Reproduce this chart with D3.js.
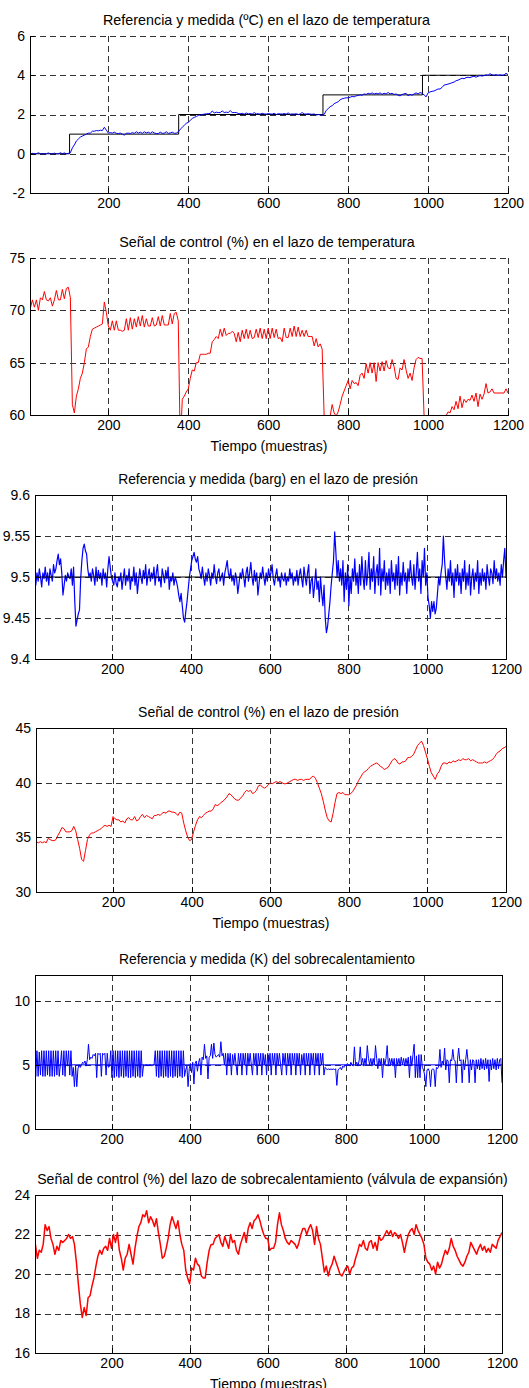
<!DOCTYPE html>
<html><head><meta charset="utf-8">
<script src="https://cdn.jsdelivr.net/npm/d3@7"></script>
<style>body{margin:0;background:#fff}svg{display:block}</style>
</head><body>
<svg id="c" width="529" height="1388"></svg>
<script>
// ---------------- DATA ----------------
const xTickValues = [200, 400, 600, 800, 1000, 1200];
const tempStep = 5, presStep = 3, presCtrlStep = 5, shStep = 3, shCtrlStep = 5; // sample spacing of each recorded series

const tempRefX = [5, 103, 376, 737, 986, 1200];
const tempRefY = [0, 1, 2, 3, 4, 4];
const tempMeas = [
0,0.02,0,0,0.05,0,0.01,0,0,0.04,0,0,0.03,0,0,0.05,0,0.04,0,0.02,
0.05,0.3,0.45,0.65,0.75,0.85,0.9,0.95,1.0,1.05,1.05,1.15,1.15,1.18,1.17,1.2,1.18,1.35,1.2,1.05,
1.08,1.05,1.1,1.04,1.03,1.05,1.0,0.95,1.04,1.05,1.03,1.08,1.04,1.12,1.05,1.1,1.04,1.12,1.06,1.1,
1.04,1.12,1.06,1.03,1.03,1.1,1.04,1.05,1.12,1.04,1.06,1.1,1.04,1.05,1.12,1.25,1.35,1.45,1.55,1.6,
1.7,1.8,1.85,1.9,1.95,1.98,2.0,2.02,2.03,2.05,2.05,2.18,2.08,2.12,2.1,2.1,2.18,2.1,2.12,2.1,
2.2,2.1,2.1,2.1,2.05,2.04,2.06,2.02,2.08,2.03,2.05,2.02,2.1,2.03,2.04,2.02,2.06,2.03,2.02,2.05,
2.03,2.02,2.06,2.0,2.04,2.03,2.02,2.05,2.02,2.08,2.01,2.03,2.02,2.04,2.0,2.03,2.1,2.03,2.02,2.04,
2.02,2.01,2.03,1.97,2.0,1.98,1.97,2.0,2.2,2.3,2.4,2.45,2.55,2.6,2.65,2.75,2.8,2.83,2.85,2.85,
2.88,2.92,2.9,2.95,2.97,3.0,2.98,3.05,3.02,3.08,3.05,3.1,3.04,3.08,3.05,3.1,3.03,3.08,3.05,3.12,
3.05,3.08,3.02,3.05,2.98,2.95,3.02,3.05,3.08,2.95,3.02,2.98,3.05,3.1,3.05,3.12,3.08,3.0,2.9,3.1,
3.15,3.18,3.2,3.25,3.3,3.3,3.38,3.5,3.52,3.55,3.58,3.62,3.65,3.72,3.75,3.8,3.85,3.82,3.88,3.9,
3.88,3.92,3.95,3.9,3.95,3.98,3.96,3.98,4.02,4.0,4.08,4.02,4.0,4.03,4.0,4.02,4.0,4.01,4.1,4.03
];
const tempCtrl = [
70.2,71.0,70.3,71.0,70.0,71.2,71.0,71.8,71.0,70.9,71.2,70.4,71.0,71.9,71.0,71.0,72.0,71.1,72.1,72.2,
71.2,61.0,60.2,61.8,62.5,63.5,64.0,65.0,66.3,66.5,67.5,68.2,68.3,68.4,68.5,68.6,68.7,70.8,69.8,68.5,
68.1,69.0,68.1,69.0,68.1,68.1,68.0,68.1,69.2,68.1,69.3,68.2,69.2,68.4,69.4,68.5,69.5,68.4,69.2,68.5,
68.5,69.3,68.5,68.6,69.4,68.5,69.5,68.6,68.6,68.6,69.7,68.7,69.7,69.8,69.0,57,61.5,61.8,62.2,62.5,
63.5,64.3,64.2,65.0,65.0,65.8,65.8,65.8,65.8,65.9,65.9,67.0,67.2,67.5,67.3,68.2,67.5,68.3,67.6,67.8,
67.8,68.0,67.8,67.0,67.9,67.0,68.1,67.3,68.2,67.3,68.1,67.3,67.4,68.2,67.4,68.3,67.3,68.2,67.3,68.3,
67.3,68.3,67.4,68.2,67.3,67.4,67.0,68.3,67.4,67.4,68.3,67.5,68.5,67.5,68.4,67.5,68.1,67.5,68.1,67.5,
67.5,67.5,66.6,67.3,66.5,66.8,66.3,59.9,59.9,59.9,59.9,61.0,60.2,59.9,60.3,61.0,61.8,62.3,62.8,63.3,
62.5,63.3,63.0,63.1,62.8,63.8,64.0,63.5,64.9,64.0,65.0,64.0,65.0,63.2,65.0,64.2,65.1,64.2,65.2,64.5,
64.4,65.3,64.6,63.5,63.4,64.5,64.3,65.3,64.3,63.5,64.0,63.3,64.5,65.3,65.5,65.4,65.4,59.9,59.9,59.9,
59.9,59.9,59.9,59.9,59.9,59.9,59.9,59.9,59.9,60.3,60.2,60.8,60.5,61.3,60.6,61.8,60.7,61.5,61.2,61.5,
61.4,61.9,61.3,62.1,60.8,62.0,61.5,62.0,63.0,62.1,62.2,62.5,62.1,62.1,62.1,62.1,62.1,62.1,62.5,62.1
];
const presRefX = [3, 1200];
const presRefY = [9.5, 9.5];
const presMeas = [
9.5,9.49,9.505,9.495,9.51,9.5,9.488,9.505,9.498,9.512,9.495,9.505,9.49,9.51,9.502,9.495,9.515,9.505,9.51,9.52,
9.528,9.515,9.522,9.505,9.478,9.49,9.502,9.495,9.505,9.5,9.498,9.51,9.49,9.512,9.47,9.44,9.448,9.455,9.46,9.498,
9.52,9.535,9.54,9.532,9.528,9.51,9.5,9.505,9.495,9.51,9.502,9.49,9.512,9.495,9.508,9.498,9.505,9.49,9.51,9.498,
9.505,9.488,9.51,9.525,9.512,9.5,9.495,9.49,9.505,9.492,9.488,9.5,9.495,9.505,9.485,9.498,9.51,9.49,9.502,9.495,
9.51,9.485,9.5,9.495,9.512,9.49,9.505,9.48,9.495,9.51,9.5,9.492,9.508,9.498,9.515,9.49,9.502,9.51,9.495,9.505,
9.498,9.512,9.49,9.505,9.515,9.495,9.5,9.488,9.51,9.502,9.493,9.508,9.498,9.512,9.485,9.5,9.495,9.505,9.49,9.5,
9.495,9.488,9.478,9.47,9.48,9.465,9.45,9.445,9.458,9.47,9.485,9.5,9.51,9.52,9.525,9.53,9.522,9.518,9.525,9.51,
9.505,9.498,9.512,9.5,9.49,9.505,9.495,9.51,9.502,9.49,9.505,9.498,9.515,9.5,9.492,9.505,9.51,9.495,9.5,9.505,
9.49,9.505,9.512,9.52,9.505,9.498,9.51,9.495,9.502,9.49,9.505,9.498,9.48,9.492,9.505,9.498,9.51,9.5,9.488,9.505,
9.512,9.495,9.505,9.518,9.5,9.49,9.508,9.495,9.505,9.478,9.492,9.505,9.498,9.512,9.5,9.49,9.505,9.495,9.51,9.5,
9.505,9.515,9.498,9.49,9.502,9.51,9.495,9.5,9.488,9.505,9.498,9.495,9.505,9.49,9.5,9.495,9.51,9.498,9.505,9.49,
9.5,9.495,9.508,9.49,9.502,9.51,9.498,9.488,9.512,9.5,9.49,9.505,9.515,9.48,9.495,9.5,9.475,9.49,9.51,9.485,
9.495,9.47,9.5,9.48,9.465,9.49,9.45,9.432,9.44,9.455,9.47,9.49,9.505,9.52,9.555,9.53,9.5,9.52,9.495,9.51,
9.49,9.52,9.47,9.505,9.485,9.515,9.465,9.5,9.48,9.51,9.495,9.522,9.49,9.505,9.48,9.515,9.49,9.525,9.5,9.485,
9.52,9.49,9.505,9.53,9.485,9.51,9.495,9.525,9.48,9.505,9.515,9.49,9.535,9.478,9.51,9.495,9.52,9.485,9.505,9.49,
9.51,9.48,9.52,9.495,9.505,9.485,9.515,9.49,9.525,9.478,9.505,9.49,9.518,9.495,9.505,9.48,9.51,9.495,9.52,9.5,
9.49,9.515,9.485,9.505,9.53,9.495,9.51,9.48,9.52,9.5,9.535,9.49,9.505,9.475,9.465,9.45,9.47,9.458,9.47,9.455,
9.462,9.48,9.5,9.49,9.505,9.515,9.55,9.52,9.5,9.485,9.51,9.495,9.52,9.49,9.505,9.475,9.51,9.495,9.515,9.49,
9.505,9.48,9.51,9.495,9.52,9.485,9.505,9.49,9.515,9.478,9.5,9.51,9.485,9.505,9.495,9.52,9.48,9.505,9.49,9.51,
9.495,9.505,9.485,9.515,9.5,9.49,9.51,9.505,9.492,9.52,9.498,9.51,9.495,9.505,9.49,9.515,9.5,9.52,9.535,9.5
];
const presCtrl = [
34.6,34.5,34.6,34.5,34.6,34.5,34.9,34.8,34.7,34.7,34.8,35.2,35.5,35.9,35.8,35.5,35.5,35.5,35.6,36.0,
35.6,34.8,34.0,33.0,32.8,33.8,34.8,35.2,35.4,35.4,35.5,35.6,35.7,35.8,36.0,36.1,36.0,36.1,36.0,36.9,
36.7,36.6,36.6,36.4,36.5,36.3,36.7,36.8,36.6,36.6,36.9,36.5,36.6,36.9,37.1,36.8,37.0,36.9,36.8,36.7,
37.0,37.0,37.1,37.0,37.2,37.3,37.2,37.4,37.4,37.3,37.3,37.2,37.0,37.3,37.2,36.3,35.6,35.0,34.7,34.8,
35.5,36.1,36.6,36.9,36.8,37.0,37.2,37.3,37.4,37.4,37.6,38.0,37.9,38.0,38.2,38.3,38.5,38.7,39.0,38.9,
38.7,38.5,38.4,38.4,38.6,38.8,39.1,39.3,39.2,39.3,39.0,39.1,39.3,39.7,39.8,39.6,39.5,39.6,39.8,40.0,
39.9,40.0,40.1,40.0,40.1,40.0,39.9,39.9,40.0,40.1,40.2,40.3,40.3,40.2,40.3,40.3,40.2,40.3,40.3,40.3,
40.5,40.6,40.4,40.0,39.5,39.0,38.3,37.5,36.8,36.5,36.4,37.2,38.2,39.0,39.1,39.0,39.1,38.9,38.9,38.9,
39.0,39.2,39.5,39.8,40.2,40.5,40.8,41.0,41.1,41.3,41.5,41.6,41.7,41.8,41.7,41.5,41.4,41.2,41.3,41.4,
41.7,42.0,42.2,42.1,41.8,41.7,41.9,41.9,42.0,42.3,42.3,42.4,42.6,43.0,43.4,43.6,43.8,43.4,42.8,42.2,
41.5,40.9,40.6,40.3,40.8,41.0,41.5,41.8,41.8,41.7,41.9,41.8,42.0,41.9,42.0,42.1,42.0,42.2,42.1,42.1,
42.2,42.0,42.1,42.0,41.9,41.8,41.8,41.8,41.9,41.8,41.9,42.0,42.1,42.3,42.6,42.8,42.9,43.1,43.2,43.3
];
const shRefX = [3, 1200];
const shRefY = [5, 5];
const shMeas = [
6.1,4.1,6.1,4.1,6.0,4.2,6.1,4.1,6.1,4.1,6.1,4.2,6.1,4.1,6.1,4.1,6.1,4.1,6.1,4.2,
6.1,4.1,5.0,6.1,4.2,6.1,4.1,6.1,4.9,6.1,4.2,6.1,4.1,4.8,3.3,4.9,3.3,4.7,5.0,4.8,
5.0,5.2,5.1,5.3,4.9,5.4,6.6,5.4,5.6,5.5,5.8,5.7,5.9,4.0,5.9,5.8,5.9,4.1,5.9,5.8,
5.9,4.2,5.9,4.8,4.9,6.1,4.0,6.1,4.0,6.1,4.1,6.1,4.0,6.1,4.1,6.1,4.0,6.1,4.1,6.1,
4.0,6.1,4.0,6.1,4.1,6.1,4.0,6.1,4.1,6.1,4.0,6.1,4.1,5.0,4.9,5.0,5.0,4.9,5.0,5.0,
4.9,5.0,5.0,6.1,4.1,6.1,4.0,6.1,4.1,6.1,4.0,6.1,4.1,6.1,4.0,6.1,4.1,6.1,4.0,6.1,
4.1,6.1,4.0,6.1,4.1,6.1,4.0,6.1,4.1,4.6,4.9,3.3,4.7,5.1,4.4,5.2,3.5,5.1,5.3,4.5,
5.2,5.5,4.2,5.6,5.4,6.6,5.5,5.7,3.9,5.6,5.7,6.6,5.5,6.7,5.8,5.6,5.7,5.8,5.6,6.8,
5.7,5.9,5.0,5.9,4.2,5.9,5.0,5.9,4.2,5.8,5.0,5.9,5.0,4.2,5.9,5.0,5.9,4.2,5.9,5.0,
5.9,4.2,5.9,5.0,5.9,5.0,4.2,5.9,5.0,5.9,4.2,5.9,5.0,5.9,4.2,5.9,5.0,5.8,4.2,5.9,
5.0,5.9,4.2,5.9,5.0,5.9,4.2,5.9,5.0,5.9,5.0,4.2,5.9,5.0,5.9,4.2,5.9,5.0,5.9,4.2,
5.9,5.0,5.9,4.2,5.9,5.0,5.9,4.2,5.8,5.0,5.9,4.2,5.9,5.0,5.9,4.2,5.9,5.0,5.9,4.2,
5.9,5.0,5.9,4.2,5.9,5.0,5.9,4.2,4.8,4.7,4.6,4.7,4.6,4.7,4.6,4.7,4.6,4.7,3.4,4.6,
4.7,4.8,4.6,4.9,4.8,5.0,4.9,5.1,5.0,4.9,5.2,5.0,4.9,6.4,5.0,5.2,4.9,5.3,6.4,5.0,
5.5,4.9,5.5,5.0,6.5,5.5,5.0,5.5,4.9,5.5,5.0,6.5,5.5,4.7,5.5,5.0,5.5,4.0,5.5,5.0,
5.5,6.5,4.9,5.5,5.0,5.5,4.9,5.5,4.0,5.5,5.0,5.5,4.9,5.6,5.0,5.5,4.9,5.5,5.0,5.6,
4.0,5.7,4.9,5.8,6.6,4.0,5.7,4.0,5.8,4.0,5.8,4.8,4.6,4.2,3.3,4.6,4.7,4.5,3.3,4.6,
4.7,4.6,3.3,4.8,4.7,4.9,6.2,4.8,5.3,5.0,6.3,4.6,5.4,5.3,3.6,5.4,5.3,6.2,5.4,5.3,
3.6,5.4,6.3,5.3,5.4,3.6,5.4,4.6,5.4,6.2,5.3,3.6,5.4,4.6,5.4,5.3,3.6,5.4,4.7,5.4,
4.6,5.5,4.7,5.4,4.6,5.5,4.7,5.4,3.7,5.4,4.6,5.5,4.7,5.4,4.6,5.5,4.7,5.4,5.5,3.6
];
const shCtrl = [
21.5,20.8,21.2,21.1,21.5,22.5,22.2,22.4,21.8,21.5,21.0,21.4,21.2,21.7,21.6,21.7,21.8,22.0,21.8,21.9,
21.5,20.6,19.5,18.5,17.8,18.3,17.9,18.8,18.9,19.4,19.8,20.4,20.9,21.2,21.0,21.3,21.4,21.2,21.8,21.3,
22.0,21.6,22.1,21.2,20.8,20.2,20.8,21.0,21.5,21.0,20.5,21.3,21.9,22.4,22.6,23.0,22.9,23.2,22.6,22.9,
22.7,22.4,22.8,22.1,21.5,20.8,20.9,21.3,21.8,22.5,22.9,22.6,22.3,22.7,22.0,21.5,21.2,20.2,19.8,19.5,
20.3,20.2,20.8,20.5,20.4,19.9,19.8,19.8,20.6,21.2,21.5,21.5,21.8,21.9,22.0,21.6,21.4,21.9,21.6,21.3,
22.0,21.6,21.7,21.2,21.0,21.5,21.8,22.1,21.6,22.3,22.6,22.3,22.7,22.8,23.0,22.7,22.3,22.0,21.8,21.8,
21.2,21.3,21.3,21.6,22.5,23.1,22.5,22.2,21.8,21.6,21.5,21.7,21.6,21.5,21.3,21.6,22.0,22.3,22.3,22.0,
22.3,22.5,22.2,21.5,22.4,21.8,21.5,20.8,20.1,20.4,19.9,20.3,20.5,20.9,20.6,20.3,20.0,19.9,20.1,20.3,
20.4,20.0,20.3,20.4,20.8,21.1,21.5,21.4,21.7,21.3,21.2,21.6,21.7,21.3,21.6,21.2,21.9,21.7,21.8,22.0,
22.2,22.0,22.2,21.9,22.1,22.0,21.8,22.0,21.6,21.1,21.6,22.0,22.2,22.3,22.0,22.5,22.2,22.0,21.8,21.5,
20.8,20.6,20.5,20.2,20.4,20.0,20.6,20.3,20.5,20.9,21.2,21.0,21.3,21.8,21.4,21.2,20.9,20.7,20.5,20.4,
20.6,20.9,21.1,21.6,21.4,21.2,21.0,21.3,21.5,21.2,21.4,21.1,21.3,21.1,21.5,21.4,21.3,21.7,21.9,22.1
];

const titles = [
 "Referencia y medida (ºC) en el lazo de temperatura",
 "Señal de control (%) en el lazo de temperatura",
 "Referencia y medida (barg) en el lazo de presión",
 "Señal de control (%) en el lazo de presión",
 "Referencia y medida (K) del sobrecalentamiento",
 "Señal de control (%) del lazo de sobrecalentamiento (válvula de expansión)"
];
const xLabel = "Tiempo (muestras)";
const yTicks1 = [-2, 0, 2, 4, 6];
const yTicks2 = [60, 65, 70, 75];
const yTicks3 = [9.4, 9.45, 9.5, 9.55, 9.6];
const yTicks4 = [30, 35, 40, 45];
const yTicks5 = [0, 5, 10];
const yTicks6 = [16, 18, 20, 22, 24];

// ---------------- LAYOUT ----------------
const svg = d3.select("#c");
const toPts = (arr, step) => arr.map((v, i) => [step * (i + 1), v]);
const zipPts = (xs, ys) => xs.map((x, i) => [x, ys[i]]);

const panels = [
 {l:30, r:508, t:36,  b:193, ydom:[-2,6], yt:yTicks1, title:titles[0], tw:327, tc:266.5, box:false,
  series:[{pts:zipPts(tempRefX,tempRefY), c:"#000", step:true, w:1},{pts:toPts(tempMeas,tempStep), c:"#0000ff", w:1}]},
 {l:30, r:508, t:258, b:415, ydom:[60,75], yt:yTicks2, title:titles[1], tw:296, tc:267, box:false, xl:true,
  series:[{pts:toPts(tempCtrl,tempStep), c:"#ff0000", w:1}]},
 {l:35, r:506, t:495, b:659, ydom:[9.4,9.6], yt:yTicks3, title:titles[2], tw:300, tc:268, box:true,
  series:[{pts:toPts(presMeas,presStep), c:"#0000ff", w:1.2},{pts:zipPts(presRefX,presRefY), c:"#000", w:1}]},
 {l:36, r:506, t:728, b:892, ydom:[30,45], yt:yTicks4, title:titles[3], tw:261, tc:268.5, box:true, xl:true,
  series:[{pts:toPts(presCtrl,presCtrlStep), c:"#ff0000", w:1}]},
 {l:35, r:502, t:975, b:1129, ydom:[0,12], yt:yTicks5, title:titles[4], tw:296, tc:267, box:true,
  series:[{pts:zipPts(shRefX,shRefY), c:"#0000ff", w:1},{pts:toPts(shMeas,shStep), c:"#0000ff", w:1}]},
 {l:35, r:502, t:1195, b:1353, ydom:[16,24], yt:yTicks6, title:titles[5], tw:471, tc:272.5, box:true, xl:true,
  series:[{pts:toPts(shCtrl,shCtrlStep), c:"#ff0000", w:1.5}]}
];

const font = "'Liberation Sans', Arial, sans-serif";

panels.forEach((p, k) => {
  const x = d3.scaleLinear().domain([4, 1200]).range([p.l, p.r]);
  const y = d3.scaleLinear().domain(p.ydom).range([p.b, p.t]);
  const g = svg.append("g");
  const cid = "clip" + k;
  svg.append("clipPath").attr("id", cid).append("rect")
    .attr("x", p.l).attr("y", p.t).attr("width", p.r - p.l + 1).attr("height", p.b - p.t);

  // grid
  const grid = g.append("g").attr("stroke", "#333").attr("stroke-width", 1)
    .attr("stroke-dasharray", "6,4").attr("shape-rendering", "crispEdges");
  xTickValues.forEach(v => grid.append("line")
    .attr("x1", Math.round(x(v)) + 0.5).attr("x2", Math.round(x(v)) + 0.5)
    .attr("y1", p.t).attr("y2", p.b));
  p.yt.forEach(v => { if (v !== p.ydom[0]) grid.append("line")
    .attr("x1", p.l).attr("x2", p.r)
    .attr("y1", Math.round(y(v)) + 0.5).attr("y2", Math.round(y(v)) + 0.5); });

  // series
  const sg = g.append("g").attr("clip-path", `url(#${cid})`);
  p.series.forEach(s => {
    const line = d3.line().x(d => x(d[0])).y(d => y(d[1]));
    if (s.step) line.curve(d3.curveStepAfter);
    sg.append("path").attr("d", line(s.pts)).attr("fill", "none")
      .attr("stroke", s.c).attr("stroke-width", s.w).attr("stroke-linejoin", "round");
  });

  // axes
  const xa = d3.axisBottom(x).tickValues(xTickValues).tickSize(0).tickPadding(5)
    .tickFormat(d3.format("d"));
  const ya = d3.axisLeft(y).tickValues(p.yt).tickSize(0).tickPadding(5)
    .tickFormat(d => String(+d.toFixed(2)));
  const gx = g.append("g").attr("transform", `translate(0,${p.b})`).call(xa);
  const gy = g.append("g").attr("transform", `translate(${p.l},0)`).call(ya);
  [gx, gy].forEach(a => {
    a.select(".domain").remove();
    a.selectAll("text").attr("font-family", font).attr("font-size", 14).attr("fill", "#000");
  });
  const fr = g.append("g").attr("stroke", "#000").attr("stroke-width", 1).attr("shape-rendering", "crispEdges");
  fr.append("line").attr("x1", p.l).attr("x2", p.r + 1).attr("y1", p.b + 0.5).attr("y2", p.b + 0.5);
  fr.append("line").attr("x1", p.l + 0.5).attr("x2", p.l + 0.5).attr("y1", p.t).attr("y2", p.b);
  if (p.box) {
    fr.append("line").attr("x1", p.l).attr("x2", p.r + 1).attr("y1", p.t + 0.5).attr("y2", p.t + 0.5);
    fr.append("line").attr("x1", p.r + 0.5).attr("x2", p.r + 0.5).attr("y1", p.t).attr("y2", p.b + 1);
  }
  // small inward ticks
  xTickValues.forEach(v => fr.append("line").attr("x1", Math.round(x(v)) + 0.5).attr("x2", Math.round(x(v)) + 0.5).attr("y1", p.b).attr("y2", p.b - 5));
  p.yt.forEach(v => fr.append("line").attr("x1", p.l).attr("x2", p.l + 5).attr("y1", Math.round(y(v)) + 0.5).attr("y2", Math.round(y(v)) + 0.5));

  // title (font size fitted to the reference title width)
  const tt = g.append("text").attr("x", p.tc).attr("y", p.t - 11.5)
    .attr("text-anchor", "middle").attr("font-family", font).attr("font-size", 14)
    .text(p.title);
  const w = tt.node().getComputedTextLength();
  if (w > 0) tt.attr("font-size", (14 * p.tw / w).toFixed(2));
  if (p.xl) g.append("text").attr("x", (p.l + p.r) / 2).attr("y", p.b + 36)
    .attr("text-anchor", "middle").attr("font-family", font).attr("font-size", 14)
    .text(xLabel);
});
</script>
</body></html>
